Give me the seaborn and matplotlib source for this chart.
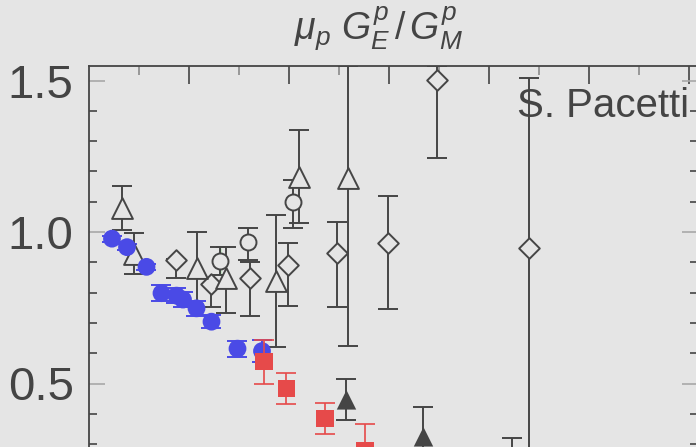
import numpy as np
import matplotlib
matplotlib.use("Agg")
import matplotlib.pyplot as plt
import seaborn as sns

# ---------------- data ----------------
# JLab recoil-polarization (blue filled circles)
blue_q2 = [0.46, 0.76, 1.15, 1.45, 1.75, 1.88, 2.15, 2.45, 2.97, 3.46]
blue_r = [0.978, 0.950, 0.885, 0.798, 0.790, 0.777, 0.748, 0.704, 0.615, 0.607]
blue_err = [0.010, 0.010, 0.010, 0.027, 0.025, 0.025, 0.024, 0.022, 0.026, 0.036]

# red filled squares
red_q2 = [3.50, 3.95, 4.72, 5.52]
red_r = [0.572, 0.484, 0.385, 0.280]
red_err = [0.072, 0.051, 0.052, 0.086]

# black filled triangles
blk_q2 = [5.15, 6.69, 8.47]
blk_r = [0.446, 0.324, 0.138]
blk_err = [0.068, 0.097, 0.183]

# open triangles
otri_q2 = [0.65, 0.89, 2.17, 2.75, 3.74, 4.20, 5.19]
otri_r = [1.079, 0.929, 0.880, 0.847, 0.839, 1.183, 1.177]
otri_lo = [0.074, 0.068, 0.128, 0.115, 0.218, 0.154, 0.552]
otri_hi = [0.074, 0.068, 0.120, 0.104, 0.218, 0.154, 0.371]

# open circles
ocir_q2 = [2.62, 3.19, 4.09]
ocir_r = [0.904, 0.968, 1.098]
ocir_lo = [0.045, 0.060, 0.086]
ocir_hi = [0.045, 0.044, 0.073]

# open diamonds
odia_q2 = [1.74, 2.45, 3.22, 3.99, 4.97, 5.99, 6.97, 8.81]
odia_r = [0.907, 0.827, 0.847, 0.891, 0.930, 0.965, 1.503, 0.946]
odia_lo = [0.060, 0.074, 0.124, 0.135, 0.176, 0.220, 0.258, 0.800]
odia_hi = [0.003, 0.003, 0.053, 0.072, 0.104, 0.154, 0.045, 0.561]

# small green point hidden behind an open circle
grn_q2 = [2.63]
grn_r = [0.903]
grn_err = [0.045]

y_ticks = [0.5, 1.0, 1.5]
y_ticklabels = ["0.5", "1.0", "1.5"]
title = r"$\mu_p\ G_E^p\,/\,G_M^p$"
credit = "S. Pacetti"

# ---------------- style ----------------
BG = "#e5e5e5"
DARK = "#454545"
BLUE = "#4a4ae6"
RED = "#e64a4a"
GREEN = "#44dd44"

sns.set_style("white", rc={"axes.facecolor": BG, "figure.facecolor": BG})
plt.rcParams["font.family"] = ["Liberation Sans", "DejaVu Sans"]
plt.rcParams["mathtext.fontset"] = "custom"
plt.rcParams["mathtext.it"] = "Liberation Sans:italic"
plt.rcParams["mathtext.rm"] = "Liberation Sans"

W, H = 696, 447
fig = plt.figure(figsize=(W / 100, H / 100), dpi=100)
fig.patch.set_facecolor(BG)

# axes pixel geometry
left_px, right_px, top_px = 89, 698, 66
y1_px, px_per_unit = 232, 303.0
ymin = 0.0
ymax = 1.0 + (y1_px - top_px) / px_per_unit
bottom_px = y1_px + (1.0 - ymin) * px_per_unit
ax = fig.add_axes([left_px / W, (H - bottom_px) / H,
                   (right_px - left_px) / W, (bottom_px - top_px) / H])
ax.set_facecolor(BG)
ax.set_xlim(0, (right_px - left_px) / 50.0)
ax.set_ylim(ymin, ymax)

for s in ax.spines.values():
    s.set_color(DARK)
    s.set_linewidth(1.3)

# ---------------- error bars ----------------
ekw = dict(fmt="none", elinewidth=1.4, capthick=1.4, capsize=7)
ax.errorbar(grn_q2, grn_r, yerr=grn_err, fmt="none", ecolor=GREEN,
            elinewidth=1.0, capsize=0, zorder=1.5)
ax.errorbar(odia_q2, odia_r, yerr=[odia_lo, odia_hi], ecolor=DARK, zorder=2, **ekw)
ax.errorbar(otri_q2, otri_r, yerr=[otri_lo, otri_hi], ecolor=DARK, zorder=2, **ekw)
ax.errorbar(ocir_q2, ocir_r, yerr=[ocir_lo, ocir_hi], ecolor=DARK, zorder=2, **ekw)
ax.errorbar(blue_q2, blue_r, yerr=blue_err, ecolor=BLUE, zorder=3, **ekw)
ax.errorbar(blk_q2, blk_r, yerr=blk_err, ecolor=DARK, zorder=3, **ekw)
ax.errorbar(red_q2, red_r, yerr=red_err, ecolor=RED, zorder=5,
            fmt="none", elinewidth=1.2, capthick=1.2, capsize=7)

# ---------------- markers (seaborn) ----------------
sns.scatterplot(x=odia_q2, y=odia_r, marker="D", s=10.5 ** 2, color=BG,
                edgecolor=DARK, linewidth=1.4, ax=ax, zorder=4)
sns.scatterplot(x=otri_q2, y=otri_r, marker="^", s=15 ** 2, color=BG,
                edgecolor=DARK, linewidth=1.4, ax=ax, zorder=4)
sns.scatterplot(x=ocir_q2, y=ocir_r, marker="o", s=11.5 ** 2, color=BG,
                edgecolor=DARK, linewidth=1.4, ax=ax, zorder=4)
sns.scatterplot(x=blue_q2, y=blue_r, marker="o", s=12.8 ** 2, color=BLUE,
                edgecolor="none", linewidth=0, ax=ax, zorder=4)
sns.scatterplot(x=blk_q2, y=blk_r, marker="^", s=14 ** 2, color=DARK,
                edgecolor="none", linewidth=0, ax=ax, zorder=4)
sns.scatterplot(x=red_q2, y=red_r, marker="s", s=12.3 ** 2, color=RED,
                edgecolor="none", linewidth=0, ax=ax, zorder=6)

# ---------------- ticks ----------------
ax.set_xticks(np.arange(2, 13, 2))
ax.set_xticks(np.arange(1, 13, 2), minor=True)
ax.set_yticks(y_ticks)
ax.set_yticklabels(y_ticklabels)
ax.set_yticks(np.round(np.arange(0.1, 1.55, 0.1), 2), minor=True)

ax.tick_params(axis="x", which="major", direction="in", top=True, bottom=True,
               length=13, width=1.2, color=DARK, labelbottom=False)
ax.tick_params(axis="x", which="minor", direction="in", top=True, bottom=True,
               length=6.5, width=1.2, color="#8a8a8a")
ax.tick_params(axis="y", which="major", direction="in", left=True, right=True,
               length=11.5, width=1.2, color="#a8a8a8",
               labelsize=34, labelcolor="#444444", pad=11)
ax.tick_params(axis="y", which="minor", direction="in", left=True, right=True,
               length=5.8, width=1.2, color=DARK)
ax.grid(False)

# ---------------- texts ----------------
fig.text(378 / W, 1 - 40 / H, title, ha="center", va="baseline",
         fontsize=27, color="#444444")
fig.text(517 / W, 1 - 117 / H, credit, ha="left", va="baseline",
         fontsize=29, color="#444444", zorder=10)

fig.savefig("out.png", dpi=100, facecolor=BG)
